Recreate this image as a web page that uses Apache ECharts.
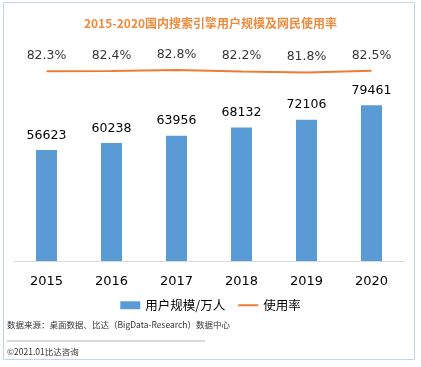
<!DOCTYPE html>
<html><head><meta charset="utf-8">
<script src="https://cdn.jsdelivr.net/npm/echarts@6/dist/echarts.min.js"></script>
<style>html,body{margin:0;padding:0;background:#fff}#c{width:421px;height:367px}</style>
</head><body><div id="c"></div>
<script>
const categories = ['2015','2016','2017','2018','2019','2020'];
const users = [56623, 60238, 63956, 68132, 72106, 79461];
const rate = [82.3, 82.4, 82.8, 82.2, 81.8, 82.5];
const titleText = '2015-2020国内搜索引擎用户规模及网民使用率';
const seriesNames = ['用户规模/万人', '使用率'];
const sourceText = '数据来源：桌面数据、比达（BigData-Research）数据中心';
const copyText = '©2021.01比达咨询';

const font = '"Microsoft YaHei","Noto Sans CJK SC","DejaVu Sans",sans-serif';
const numFont = 'Verdana, "DejaVu Sans", sans-serif';
const chart = echarts.init(document.getElementById('c'));
chart.setOption({
  animation: false,
  textStyle: {fontFamily: font},
  title: {text: titleText, left: 'center', top: 12,
    textStyle: {color: '#F08A3C', fontSize: 12, fontWeight: 'bold', fontFamily: font}},
  grid: {left: 14, right: 17, top: 65, bottom: 106, containLabel: false},
  legend: {top: 294, left: 'center', itemGap: 13, itemWidth: 20, itemHeight: 8,
    textStyle: {fontSize: 12.5, color: '#000'},
    data: [{name: seriesNames[0], icon: 'rect'},
           {name: seriesNames[1], icon: 'path://M0,0H20V2H0Z', itemStyle: {color: '#ED7D31'}}]},
  xAxis: {type: 'category', data: categories,
    axisLine: {lineStyle: {color: '#D9D9D9'}}, axisTick: {show: false},
    axisLabel: {fontSize: 13, color: '#000', margin: 14, fontFamily: numFont}},
  yAxis: [
    {type: 'value', min: 0, max: 100000, show: false, splitLine: {show: false}},
    {type: 'value', min: 0, max: 85, show: false, splitLine: {show: false}}
  ],
  series: [
    {name: seriesNames[0], type: 'bar', data: users, barWidth: 21,
      itemStyle: {color: '#5B9BD5'},
      label: {show: true, position: 'top', distance: 8, color: '#000', fontSize: 12.5, fontFamily: numFont}},
    {name: seriesNames[1], type: 'line', yAxisIndex: 1, data: rate, symbol: 'none',
      lineStyle: {color: '#ED7D31', width: 2}, itemStyle: {color: '#ED7D31'}},
    {name: 'rateLabels', type: 'scatter', yAxisIndex: 1, data: rate, symbolSize: 0,
      itemStyle: {color: 'transparent'}, silent: true,
      label: {show: true, position: 'top', distance: 9, color: '#000', fontSize: 12.5, fontFamily: numFont,
        formatter: p => p.value.toFixed(1) + '%'}}
  ],
  graphic: [
    {type: 'rect', shape: {x: 3.5, y: 2.5, width: 411, height: 357},
      style: {fill: 'none', stroke: '#BDD7EE', lineWidth: 1}, z: -1},
    {type: 'text', left: 7, top: 321, style: {text: sourceText, fontSize: 8.5, fill: '#333', fontFamily: font}},
    {type: 'line', shape: {x1: 7, y1: 341, x2: 205, y2: 341},
      style: {stroke: '#888', lineWidth: 0.6}},
    {type: 'text', left: 7, top: 348, style: {text: copyText, fontSize: 8.5, fill: '#333', fontFamily: font}}
  ]
});
</script></body></html>
